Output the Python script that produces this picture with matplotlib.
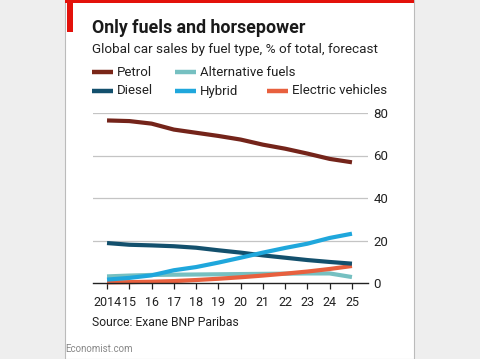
import matplotlib
matplotlib.use("Agg")
import matplotlib.pyplot as plt
from matplotlib.patches import Rectangle
from matplotlib.lines import Line2D

years = [2014, 2015, 2016, 2017, 2018, 2019, 2020, 2021, 2022, 2023, 2024, 2025]
year_labels = ["2014", "15", "16", "17", "18", "19", "20", "21", "22", "23", "24", "25"]
petrol = [76.5, 76.2, 75.0, 72.2, 70.7, 69.2, 67.5, 65.1, 63.2, 60.9, 58.4, 56.8]
diesel = [18.8, 18.0, 17.7, 17.3, 16.6, 15.4, 14.3, 13.0, 11.9, 10.8, 9.9, 9.1]
hybrid = [1.6, 2.4, 3.6, 6.0, 7.5, 9.6, 11.9, 14.3, 16.5, 18.5, 21.2, 23.2]
alternative = [3.1, 3.5, 3.8, 3.9, 4.0, 4.1, 4.2, 4.3, 4.4, 4.5, 4.5, 2.8]
electric = [0.3, 0.4, 0.6, 0.9, 1.4, 2.0, 2.7, 3.5, 4.4, 5.4, 6.6, 8.0]
y_ticks = [0, 20, 40, 60, 80]

FONT = "Roboto"
W, H = 480, 359
fig = plt.figure(figsize=(4.8, 3.59), dpi=100)
fig.patch.set_facecolor("#eeeeee")

def fx(px):
    return px / W

def fy(py):
    return 1 - py / H

# card
fig.patches.append(Rectangle((fx(65), 0), fx(414) - fx(65), 1, transform=fig.transFigure,
                             facecolor="white", edgecolor="#bbbbbb", linewidth=0.8, zorder=-2))
fig.patches.append(Rectangle((fx(65), fy(2.5)), fx(414) - fx(65), 2.5 / H, transform=fig.transFigure,
                             facecolor="#e3120b", edgecolor="none", zorder=-1))
fig.patches.append(Rectangle((fx(67), fy(32)), fx(73) - fx(67), 32 / H, transform=fig.transFigure,
                             facecolor="#e3120b", edgecolor="none", zorder=-1))

fig.text(fx(92), fy(28), "Only fuels and horsepower", fontsize=12.8, fontweight="bold",
         family=FONT, color="#1a1a1a", va="center", ha="left")
fig.text(fx(92), fy(50), "Global car sales by fuel type, % of total, forecast", fontsize=9.7,
         family=FONT, color="#222222", va="center", ha="left")

legend_items = [
    ("Petrol", "#7a2618", 92, 72),
    ("Alternative fuels", "#76c0c1", 175, 72),
    ("Diesel", "#13506d", 92, 91),
    ("Hybrid", "#1fa7dc", 175, 91),
    ("Electric vehicles", "#e8603e", 267, 91),
]
for name, col, x0, y0 in legend_items:
    fig.lines.append(Line2D([fx(x0), fx(x0 + 21)], [fy(y0), fy(y0)], transform=fig.transFigure,
                            color=col, linewidth=3.2, solid_capstyle="butt"))
    fig.text(fx(x0 + 25), fy(y0), name, fontsize=9.5, family=FONT, color="#222222",
             va="center", ha="left")

ax = fig.add_axes([fx(93), fy(283), fx(368) - fx(93), fy(113) - fy(283)])
ax.set_zorder(2)
ax.set_facecolor("none")
ax.set_xlim(2013.37, 2025.72)
ax.set_ylim(0, 80)

for v in y_ticks[1:]:
    ax.axhline(v, color="#c4c4c4", linewidth=0.9, zorder=1)
ax.axhline(0, color="#222222", linewidth=1.0, zorder=5, clip_on=False)

series = [
    (alternative, "#76c0c1"),
    (electric, "#e8603e"),
    (diesel, "#13506d"),
    (hybrid, "#1fa7dc"),
    (petrol, "#74241a"),
]
for vals, col in series:
    ax.plot(years, vals, color=col, linewidth=3.0, solid_capstyle="butt", zorder=3, clip_on=False)

for s in ax.spines.values():
    s.set_visible(False)
ax.set_xticks(years)
ax.set_xticklabels(year_labels, family=FONT, fontsize=9.0, color="#222222")
ax.tick_params(axis="x", length=4, width=0.9, color="#222222", pad=5)
ax.yaxis.tick_right()
ax.set_yticks(y_ticks)
ax.set_yticklabels([str(v) for v in y_ticks], family=FONT, fontsize=9.5, color="#222222")
ax.tick_params(axis="y", length=0, pad=4)

fig.text(fx(92), fy(322), "Source: Exane BNP Paribas", fontsize=8.7, family=FONT,
         color="#222222", va="center", ha="left")
fig.text(fx(65), fy(349), "Economist.com", fontsize=7, family=FONT, color="#888888",
         va="center", ha="left")

fig.savefig("out.png", dpi=100, facecolor=fig.get_facecolor())
